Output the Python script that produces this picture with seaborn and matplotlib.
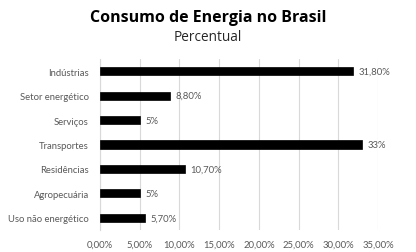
import matplotlib
matplotlib.use("Agg")
import matplotlib.pyplot as plt
import seaborn as sns
import pandas as pd

categories = ["Indústrias", "Setor energético", "Serviços", "Transportes",
              "Residências", "Agropecuária", "Uso não energético"]
values = [31.8, 8.8, 5.0, 33.0, 10.7, 5.0, 5.7]
bar_labels = ["31,80%", "8,80%", "5%", "33%", "10,70%", "5%", "5,70%"]
x_ticks = [0, 5, 10, 15, 20, 25, 30, 35]
x_tick_labels = ["0,00%", "5,00%", "10,00%", "15,00%", "20,00%", "25,00%", "30,00%", "35,00%"]

df = pd.DataFrame({"categoria": categories, "valor": values})

sns.set_theme(style="white")
plt.rcParams["font.family"] = ["Lato", "DejaVu Sans"]

fig = plt.figure(figsize=(4.16, 2.53), dpi=100)
ax = fig.add_axes([0.24, 0.087, 0.669, 0.676])

sns.barplot(data=df, x="valor", y="categoria", orient="h", color="black",
            width=0.33, ax=ax, edgecolor="black", linewidth=0.5, zorder=3)

ax.set_xlim(0, 35)
ax.set_xticks(x_ticks)
ax.set_xticklabels(x_tick_labels)
ax.xaxis.grid(True, color="#d9d9d9", linewidth=0.8, zorder=0)
ax.set_axisbelow(True)
ax.set_xlabel("")
ax.set_ylabel("")
for s in ["top", "right", "bottom"]:
    ax.spines[s].set_visible(False)
ax.spines["left"].set_color("#d9d9d9")
ax.spines["left"].set_linewidth(0.8)
ax.tick_params(axis="both", length=0, labelsize=6.8, labelcolor="#595959")
ax.tick_params(axis="y", pad=8)
ax.tick_params(axis="x", pad=7)

for container in ax.containers:
    ax.bar_label(container, labels=bar_labels, padding=4, fontsize=6.8, color="#595959")

fig.text(0.5, 0.927, "Consumo de Energia no Brasil", ha="center", va="center",
         fontsize=11.5, fontweight="bold", color="black", family=["Open Sans", "DejaVu Sans"])
fig.text(0.5, 0.853, "Percentual", ha="center", va="center",
         fontsize=9.8, color="#262626", family=["Open Sans", "DejaVu Sans"])

fig.savefig("out.png", dpi=100, facecolor="white")
